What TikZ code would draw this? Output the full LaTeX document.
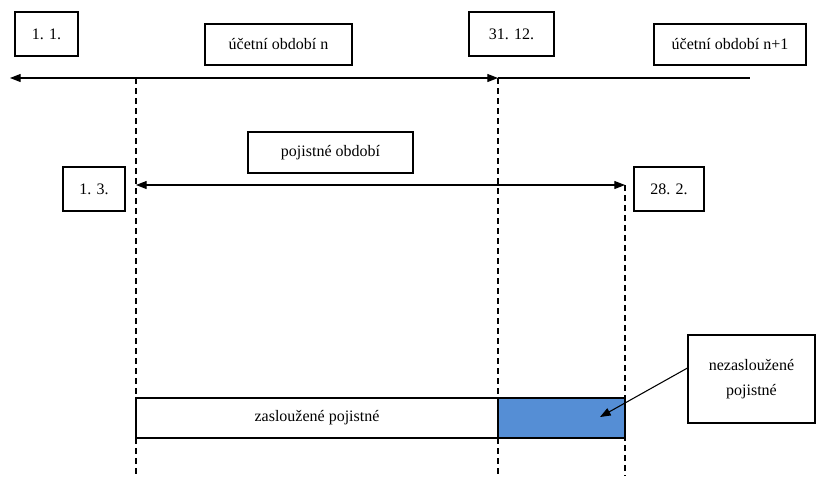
\documentclass[tikz,border=0pt]{standalone}
\usepackage{fontspec}
\setmainfont{Liberation Serif}
\usetikzlibrary{arrows.meta}
\definecolor{barblue}{RGB}{85,142,213}
\begin{document}
\begin{tikzpicture}[x=0.75pt,y=-0.75pt,
  lbl/.style={draw,thick,fill=white,inner sep=0pt,font=\fontsize{12}{15}\selectfont,align=center},
  vdash/.style={thick,dash pattern=on 4.5pt off 3pt},
  arr/.style={-{Triangle[length=8pt,width=6pt]},thick},
  darr/.style={{Triangle[length=8pt,width=6pt]}-{Triangle[length=8pt,width=6pt]},thick}]
\useasboundingbox (0,0) rectangle (816,476);
% labels
\node[lbl,minimum width=63*0.75pt,minimum height=44*0.75pt] (d11) at (46.5,34) {1. 1.};
\node[lbl,minimum width=147*0.75pt,minimum height=41*0.75pt] (un) at (278.5,44.5) {účetní období n};
\node[lbl,minimum width=85*0.75pt,minimum height=44*0.75pt] (d3112) at (511.5,34) {31. 12.};
\node[lbl,minimum width=152*0.75pt,minimum height=41*0.75pt] (un1) at (730,44.5) {účetní období n+1};
\node[lbl,minimum width=165*0.75pt,minimum height=41*0.75pt] (po) at (330.5,152.5) {pojistné období};
\node[lbl,minimum width=62*0.75pt,minimum height=44*0.75pt] (d13) at (94,189) {1. 3.};
\node[lbl,minimum width=70*0.75pt,minimum height=44*0.75pt] (d282) at (669,189) {28. 2.};
% coordinates
\coordinate (tl) at (10,78);
\coordinate (t1) at (136,78);
\coordinate (t2) at (498,78);
\coordinate (tr) at (750,78);
\coordinate (p1) at (136,185);
\coordinate (p2) at (625,185);
\coordinate (b1) at (136,476);
\coordinate (b2) at (498,476);
\coordinate (b3) at (625,476);
% dashed verticals
\draw[vdash] (t1) -- (b1);
\draw[vdash] (t2) -- (b2);
\draw[vdash] (p2) -- (b3);
% timeline
\draw[darr] (tl) -- (t2);
\draw[thick] (t2) -- (tr);
\draw[darr] (p1) -- (p2);
% bar
\node[draw,thick,fill=white,minimum width=362*0.75pt,minimum height=40*0.75pt,inner sep=0pt,font=\fontsize{12}{15}\selectfont] (zp) at (317,418) {zasloužené pojistné};
\node[draw,thick,fill=barblue,minimum width=127*0.75pt,minimum height=40*0.75pt,inner sep=0pt] (nzp) at (561.5,418) {};
\node[lbl,minimum width=127*0.75pt,minimum height=88*0.75pt] (nz) at (751.5,379) {nezasloužené\\[4pt]pojistné};
\coordinate (ah) at (600,417);
\draw[arr] (nz.west |- 0,368) -- (ah);
\end{tikzpicture}
\end{document}
